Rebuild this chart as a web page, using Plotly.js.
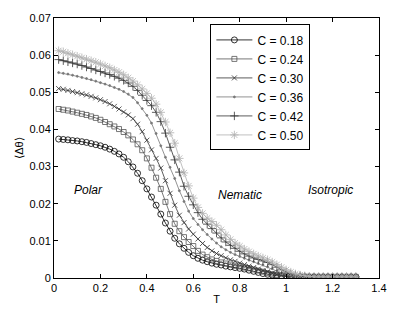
<!DOCTYPE html>
<html>
<head>
<meta charset="utf-8">
<script src="https://cdn.plot.ly/plotly-3.0.1.min.js"></script>
<style>html,body{margin:0;padding:0;background:#fff;}#chart{width:415px;height:312px;}</style>
</head>
<body>
<div id="chart"></div>
<script>
// Temperature grid
const T = [];
for (let k = 1; k <= 65; k++) T.push(Math.round(k * 2) / 100);

const seriesNames = ["C = 0.18", "C = 0.24", "C = 0.30", "C = 0.36", "C = 0.42", "C = 0.50"];

const c018 = [0.0374,0.0373,0.0372,0.0370,0.0369,0.0367,0.0365,0.0362,0.0359,0.0356,
  0.0352,0.0347,0.0341,0.0334,0.0325,0.0313,0.0299,0.0282,0.0262,0.0240,
  0.0218,0.0196,0.0172,0.0148,0.0126,0.0107,0.0092,0.0080,0.0069,0.0060,
  0.0053,0.0048,0.0044,0.0040,0.0037,0.0035,0.0032,0.0030,0.0028,0.0026,
  0.0024,0.0021,0.0018,0.0015,0.0012,0.0010,0.0008,0.0006,0.0005,0.0004,
  0.0003,0.0003,0.0003,0.0003,0.0003,0.0003,0.0003,0.0003,0.0003,0.0003,
  0.0003,0.0003,0.0003,0.0003,0.0003];

const c024 = [0.0455,0.0453,0.0451,0.0448,0.0445,0.0442,0.0439,0.0435,0.0431,0.0426,
  0.0420,0.0414,0.0408,0.0401,0.0393,0.0384,0.0373,0.0360,0.0344,0.0322,
  0.0297,0.0270,0.0240,0.0205,0.0172,0.0146,0.0126,0.0110,0.0097,0.0086,
  0.0073,0.0063,0.0056,0.0050,0.0046,0.0042,0.0039,0.0036,0.0033,0.0031,
  0.0028,0.0026,0.0023,0.0020,0.0017,0.0013,0.0010,0.0008,0.0006,0.0005,
  0.0004,0.0003,0.0003,0.0003,0.0003,0.0003,0.0003,0.0003,0.0003,0.0003,
  0.0003,0.0003,0.0003,0.0003,0.0003];

const c030 = [0.0510,0.0508,0.0505,0.0502,0.0499,0.0496,0.0493,0.0489,0.0485,0.0480,
  0.0475,0.0469,0.0462,0.0455,0.0447,0.0439,0.0429,0.0414,0.0394,0.0371,
  0.0345,0.0322,0.0296,0.0262,0.0228,0.0196,0.0169,0.0149,0.0132,0.0118,
  0.0105,0.0093,0.0082,0.0073,0.0066,0.0060,0.0054,0.0049,0.0045,0.0040,
  0.0036,0.0032,0.0028,0.0024,0.0020,0.0017,0.0013,0.0010,0.0008,0.0006,
  0.0005,0.0004,0.0003,0.0003,0.0003,0.0003,0.0003,0.0003,0.0003,0.0003,
  0.0003,0.0003,0.0003,0.0003,0.0003];

const c036 = [0.0553,0.0551,0.0549,0.0546,0.0543,0.0540,0.0537,0.0534,0.0530,0.0526,
  0.0522,0.0518,0.0513,0.0508,0.0502,0.0495,0.0486,0.0472,0.0456,0.0438,
  0.0417,0.0389,0.0356,0.0325,0.0298,0.0268,0.0235,0.0206,0.0180,0.0160,
  0.0144,0.0130,0.0117,0.0105,0.0094,0.0084,0.0076,0.0069,0.0063,0.0058,
  0.0053,0.0048,0.0044,0.0039,0.0035,0.0030,0.0025,0.0019,0.0013,0.0009,
  0.0006,0.0005,0.0004,0.0003,0.0003,0.0003,0.0003,0.0003,0.0003,0.0003,
  0.0003,0.0003,0.0003,0.0003,0.0003];

const c042 = [0.0588,0.0585,0.0582,0.0579,0.0576,0.0572,0.0568,0.0564,0.0560,0.0556,
  0.0552,0.0548,0.0543,0.0538,0.0532,0.0525,0.0516,0.0505,0.0492,0.0478,
  0.0464,0.0446,0.0421,0.0390,0.0352,0.0318,0.0285,0.0247,0.0220,0.0197,
  0.0176,0.0158,0.0145,0.0133,0.0121,0.0108,0.0097,0.0088,0.0080,0.0072,
  0.0065,0.0059,0.0054,0.0050,0.0046,0.0042,0.0036,0.0029,0.0022,0.0016,
  0.0011,0.0008,0.0006,0.0004,0.0003,0.0003,0.0003,0.0003,0.0003,0.0003,
  0.0003,0.0003,0.0003,0.0003,0.0003];

const c050 = [0.0612,0.0609,0.0605,0.0601,0.0597,0.0593,0.0589,0.0585,0.0581,0.0576,
  0.0571,0.0566,0.0560,0.0554,0.0547,0.0539,0.0530,0.0520,0.0509,0.0497,
  0.0484,0.0468,0.0446,0.0420,0.0391,0.0363,0.0322,0.0283,0.0248,0.0215,
  0.0190,0.0174,0.0161,0.0152,0.0142,0.0130,0.0116,0.0104,0.0094,0.0086,
  0.0078,0.0071,0.0065,0.0059,0.0054,0.0049,0.0043,0.0036,0.0029,0.0022,
  0.0016,0.0011,0.0008,0.0006,0.0004,0.0003,0.0003,0.0003,0.0003,0.0003,
  0.0003,0.0003,0.0003,0.0003,0.0003];

const allSeries = [c018, c024, c030, c036, c042, c050];
const lineColors = ["#000000", "#555555", "#333333", "#777777", "#333333", "#b0b0b0"];
const symbols = ["circle-open", "square-open", "x-thin-open", "circle", "cross-thin-open", "asterisk-open"];
const msizes = [6, 5, 5, 2, 6, 7];

const traces = allSeries.map((ys, i) => ({
  type: "scatter",
  mode: "lines+markers",
  x: T,
  y: ys,
  name: seriesNames[i],
  line: {color: lineColors[i], width: 0.8},
  marker: {symbol: symbols[i], size: msizes[i], color: lineColors[i],
           line: {color: lineColors[i], width: 0.8}}
}));

const font = {family: "Liberation Sans, Arial, sans-serif", size: 11, color: "#000"};

const regionLabels = ["Polar", "Nematic", "Isotropic"];
const regionX = [0.147, 0.80, 1.19];
const regionY = [0.0237, 0.0223, 0.0237];

const layout = {
  width: 415, height: 312,
  margin: {l: 54, r: 36, t: 18, b: 34},
  paper_bgcolor: "#fff", plot_bgcolor: "#fff",
  font: font,
  showlegend: true,
  legend: {
    x: 0.635, y: 0.733, xanchor: "center", yanchor: "middle",
    bgcolor: "#fff", bordercolor: "#000", borderwidth: 1,
    font: {family: "Liberation Sans, Arial, sans-serif", size: 12, color: "#000"},
    itemwidth: 36
  },
  xaxis: {
    range: [0, 1.4], tickvals: [0, 0.2, 0.4, 0.6, 0.8, 1, 1.2, 1.4],
    ticktext: ["0", "0.2", "0.4", "0.6", "0.8", "1", "1.2", "1.4"],
    ticks: "inside", ticklen: 4, tickcolor: "#000",
    showline: true, linecolor: "#000", linewidth: 1, mirror: "ticks",
    showgrid: false, zeroline: false,
    title: {text: "T", font: font, standoff: 2},
    automargin: false
  },
  yaxis: {
    range: [0, 0.07], tickvals: [0, 0.01, 0.02, 0.03, 0.04, 0.05, 0.06, 0.07],
    ticktext: ["0", "0.01", "0.02", "0.03", "0.04", "0.05", "0.06", "0.07"],
    ticks: "inside", ticklen: 4, tickcolor: "#000",
    showline: true, linecolor: "#000", linewidth: 1, mirror: "ticks",
    showgrid: false, zeroline: false,
    title: {text: "⟨Δθ⟩", font: font, standoff: 3},
    automargin: false
  },
  annotations: regionLabels.map((t, i) => ({
    x: regionX[i], y: regionY[i], xref: "x", yref: "y",
    text: "<i>" + t + "</i>", showarrow: false,
    font: {family: "Liberation Sans, Arial, sans-serif", size: 12, color: "#000"}
  }))
};

Plotly.newPlot("chart", traces, layout, {staticPlot: true, displayModeBar: false});
</script>
</body>
</html>
